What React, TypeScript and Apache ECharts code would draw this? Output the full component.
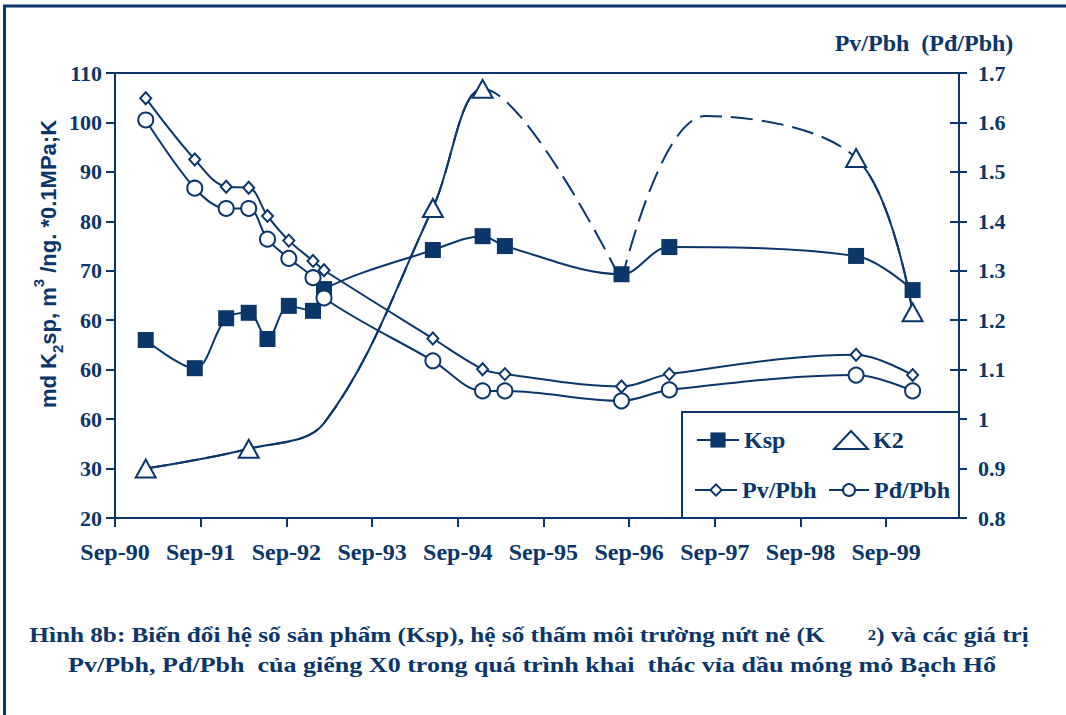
import React, { useEffect, useRef } from 'react';
import * as echarts from 'echarts';

const NAVY = '#0a3669';
const SERIF = 'Liberation Serif';
const SANS = 'Liberation Sans';

// Sampling dates shared by Ksp, Pv/Pbh and Pđ/Pbh
const sampleDates = [
  '1991-01-10', '1991-08-07', '1991-12-19', '1992-03-24', '1992-06-12',
  '1992-09-11', '1992-12-23', '1993-02-08', '1994-05-18', '1994-12-16',
  '1995-03-21', '1996-07-30', '1997-02-19', '1999-04-26', '1999-12-23',
];
const kspValues = [56, 50.3, 60.4, 61.5, 56.2, 62.9, 61.9, 66.3, 74.2, 77, 75, 69.3, 74.8, 73, 66.1];
const pvValues = [1.649, 1.525, 1.47, 1.468, 1.411, 1.361, 1.32, 1.301, 1.163, 1.101, 1.091, 1.066, 1.091, 1.13, 1.089];
const pdValues = [1.605, 1.467, 1.426, 1.426, 1.364, 1.325, 1.286, 1.245, 1.118, 1.057, 1.057, 1.037, 1.059, 1.089, 1.057];

// K2 trace; unmarked points are intermediate readings without a symbol
const k2Dates = [
  '1991-01-10', '1992-03-24', '1993-02-08', '1994-05-18', '1994-12-16',
  '1996-07-30', '1997-07-23', '1999-04-26', '1999-12-23',
];
const k2Values = [30, 34, 39.2, 82.7, 106.8, 68, 101.3, 92.8, 61.6];
const k2Marked = [true, true, false, true, true, false, false, true, true];
// The trace is dashed between these two points; it is split at the trough
const k2DashStart = 4;
const k2DashEnd = 7;
const k2Split = 5;

const xTickLabels = ['Sep-90', 'Sep-91', 'Sep-92', 'Sep-93', 'Sep-94', 'Sep-95', 'Sep-96', 'Sep-97', 'Sep-98', 'Sep-99'];
const leftTickLabels = ['20', '30', '60', '60', '60', '70', '80', '90', '100', '110'];
const rightTickLabels = ['0.8', '0.9', '1', '1.1', '1.2', '1.3', '1.4', '1.5', '1.6', '1.7'];

const ORIGIN = Date.UTC(1990, 8, 1);
const yearsFrom = (d: string) => (Date.parse(d) - ORIGIN) / (365.25 * 86400000);

function buildOption() {
  const pts = (vals: number[]) => sampleDates.map((d, i) => [yearsFrom(d), vals[i]]);
  const k2Points = k2Dates.map((d, i) => ({
    value: [yearsFrom(d), k2Values[i]],
    symbol: k2Marked[i] ? 'emptyTriangle' : 'none',
  }));
  const k2Head = k2Points.slice(0, k2Split + 1);
  const k2Tail = k2Points.slice(k2Split);
  const tDashStart = yearsFrom(k2Dates[k2DashStart]);
  const tDashEnd = yearsFrom(k2Dates[k2DashEnd]);
  const clear = 'rgba(0,0,0,0)';
  const SMOOTH = 0.35;
  const FAR = 50;
  const DASH = [22, 9];

  const labelFont = { color: NAVY, fontFamily: SERIF, fontWeight: 'bold' as const };
  const legendText = { color: NAVY, fontFamily: SERIF, fontWeight: 'bold' as const, fontSize: 24 };
  const axisLineStyle = { color: NAVY, width: 2 };

  const k2Line = {
    type: 'line', name: 'K2', yAxisIndex: 0, smooth: SMOOTH,
    symbolSize: [20, 18],
    itemStyle: { color: NAVY },
  };

  return {
    animation: false,
    backgroundColor: '#fff',
    grid: { left: 115, right: 107, top: 73, bottom: 197, show: true, borderColor: NAVY, borderWidth: 2 },
    xAxis: {
      type: 'value', min: 0, max: 9.85,
      axisLine: { lineStyle: axisLineStyle },
      axisTick: { length: 9, lineStyle: axisLineStyle, customValues: xTickLabels.map((_, i) => i) },
      axisLabel: {
        ...labelFont, fontSize: 24, margin: 22,
        customValues: xTickLabels.map((_, i) => i),
        formatter: (v: number) => xTickLabels[Math.round(v)] ?? '',
      },
      splitLine: { show: false },
    },
    yAxis: [
      {
        type: 'value', position: 'left', min: 20, max: 110, interval: 10,
        axisLine: { show: true, lineStyle: axisLineStyle },
        axisTick: { show: true, length: 9, lineStyle: axisLineStyle },
        axisLabel: { ...labelFont, fontSize: 22, margin: 13, formatter: (v: number) => leftTickLabels[Math.round((v - 20) / 10)] },
        splitLine: { show: false },
      },
      {
        type: 'value', position: 'right', min: 0.8, max: 1.7, interval: 0.1,
        axisLine: { show: true, lineStyle: axisLineStyle },
        axisTick: { show: true, length: 8, lineStyle: axisLineStyle },
        axisLabel: { ...labelFont, fontSize: 22, margin: 19, formatter: (v: number) => rightTickLabels[Math.round((v - 0.8) / 0.1)] },
        splitLine: { show: false },
      },
      {
        type: 'value', position: 'right', min: 0.8, max: 1.7, interval: 0.1,
        axisLine: { show: false },
        axisTick: { show: true, inside: true, length: 9, lineStyle: axisLineStyle },
        axisLabel: { show: false },
        splitLine: { show: false },
      },
    ],
    legend: [
      { data: ['Ksp'], left: 696, top: 428, itemWidth: 42, itemHeight: 19, padding: 0, selectedMode: false, textStyle: legendText },
      { data: [{ name: 'K2', icon: 'emptyTriangle', itemStyle: { color: NAVY } }], left: 833, top: 428, itemWidth: 34, itemHeight: 18, padding: 0, selectedMode: false, textStyle: legendText },
      { data: ['Pv/Pbh'], left: 694, top: 478, itemWidth: 42, itemHeight: 14, padding: 0, selectedMode: false, textStyle: legendText },
      { data: ['Pđ/Pbh'], left: 828, top: 478, itemWidth: 40, itemHeight: 15, padding: 0, selectedMode: false, textStyle: legendText },
    ],
    visualMap: [
      {
        type: 'piecewise', show: false, seriesIndex: 3, dimension: 0,
        pieces: [{ lte: tDashStart, color: NAVY }, { gt: tDashStart, lte: FAR, color: clear }, { gt: FAR, color: clear }],
      },
      {
        type: 'piecewise', show: false, seriesIndex: 6, dimension: 0,
        pieces: [{ lt: tDashEnd, color: clear }, { gte: tDashEnd, lte: FAR, color: NAVY }, { gt: FAR, color: NAVY }],
      },
    ],
    series: [
      {
        type: 'line', name: 'Ksp', yAxisIndex: 0, data: pts(kspValues), smooth: SMOOTH,
        symbol: 'rect', symbolSize: 16,
        lineStyle: { color: NAVY, width: 2 }, itemStyle: { color: NAVY },
      },
      {
        type: 'line', name: 'Pv/Pbh', yAxisIndex: 1, data: pts(pvValues), smooth: SMOOTH,
        symbol: 'emptyDiamond', symbolSize: [11, 12],
        lineStyle: { color: NAVY, width: 2 }, itemStyle: { color: NAVY, borderWidth: 1.6 },
      },
      {
        type: 'line', name: 'Pđ/Pbh', yAxisIndex: 1, data: pts(pdValues), smooth: SMOOTH,
        symbol: 'emptyCircle', symbolSize: 15,
        lineStyle: { color: NAVY, width: 2 }, itemStyle: { color: NAVY, borderWidth: 1.6 },
      },
      { ...k2Line, data: k2Head, lineStyle: { width: 2 }, z: 3 },
      { ...k2Line, data: k2Head.map((p) => ({ ...p, symbol: 'none' })), showSymbol: false, lineStyle: { color: NAVY, width: 2, type: DASH } },
      { ...k2Line, data: k2Tail.map((p) => ({ ...p, symbol: 'none' })), showSymbol: false, lineStyle: { color: NAVY, width: 2, type: DASH } },
      { ...k2Line, data: k2Tail, lineStyle: { width: 2 }, z: 3 },
    ],
    graphic: [
      {
        type: 'rect', silent: true, z: -1,
        shape: { x: 4.5, y: 6, width: 1200, height: 800 },
        style: { fill: 'none', stroke: NAVY, lineWidth: 3 },
      },
      {
        type: 'rect', silent: true, z: 3,
        shape: { x: 682, y: 412, width: 277, height: 106 },
        style: { fill: '#fff', stroke: NAVY, lineWidth: 2 },
      },
      {
        type: 'text', x: 48, y: 264, rotation: Math.PI / 2, silent: true,
        style: {
          text: '{n|md K}{sub|2}{n|sp, m}{sup|3}{n| /ng. *0.1MPa;K}',
          align: 'center', verticalAlign: 'middle', fill: NAVY,
          rich: {
            n: { fontFamily: SANS, fontWeight: 'bold', fontSize: 22, fill: NAVY, lineHeight: 34 },
            sub: { fontFamily: SANS, fontWeight: 'bold', fontSize: 15, fill: NAVY, verticalAlign: 'bottom', lineHeight: 34 },
            sup: { fontFamily: SANS, fontWeight: 'bold', fontSize: 15, fill: NAVY, verticalAlign: 'top', lineHeight: 34 },
          },
        },
      },
      {
        type: 'text', x: 924, y: 43, silent: true,
        style: {
          text: 'Pv/Pbh\u00a0\u00a0(Pđ/Pbh)', align: 'center', verticalAlign: 'middle',
          fill: NAVY, fontFamily: SERIF, fontWeight: 'bold', fontSize: 24,
        },
      },
      {
        type: 'text', x: 529, y: 635, scaleX: 1.2, silent: true,
        style: {
          text: '{t|Hình 8b: Biến đổi hệ số sản phẩm (Ksp), hệ số thấm môi trường nứt nẻ (K}{g| }{s|2}{t|) và các giá trị}',
          align: 'center', verticalAlign: 'middle',
          rich: {
            t: { fontFamily: SERIF, fontWeight: 'bold', fontSize: 21, fill: NAVY },
            g: { fontFamily: SERIF, fontSize: 21, width: 36 },
            s: { fontFamily: SERIF, fontWeight: 'bold', fontSize: 14, fill: NAVY },
          },
        },
      },
      {
        type: 'text', x: 532, y: 665, scaleX: 1.24, silent: true,
        style: {
          text: 'Pv/Pbh, Pđ/Pbh  của giếng X0 trong quá trình khai  thác vỉa dầu móng mỏ Bạch Hổ',
          align: 'center', verticalAlign: 'middle',
          fill: NAVY, fontFamily: SERIF, fontWeight: 'bold', fontSize: 21,
        },
      },
    ],
  };
}

export default function App() {
  const ref = useRef<HTMLDivElement>(null);
  useEffect(() => {
    if (!ref.current) return;
    const chart = echarts.init(ref.current, undefined, { renderer: 'svg' });
    chart.setOption(buildOption() as any);
    return () => chart.dispose();
  }, []);
  return (
    <div
      ref={ref}
      style={{ position: 'absolute', left: 0, top: 0, width: 1066, height: 715, background: '#fff' }}
    />
  );
}
